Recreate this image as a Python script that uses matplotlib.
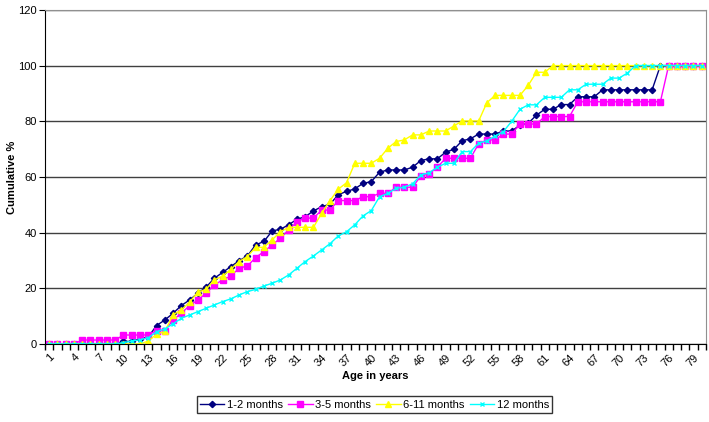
import numpy as np
import matplotlib
matplotlib.use('Agg')
import matplotlib.pyplot as plt
from matplotlib.ticker import FixedLocator

plt.rcParams['font.family'] = ['Liberation Sans', 'DejaVu Sans']

# Age categories 1..80
ages = list(range(1, 81))

m1_2 = [0, 0, 0, 0, 0, 0, 0, 0, 0, 0.9,
        0.9, 1.9, 2.5, 6.6, 8.6, 11.0, 13.8, 15.8, 18.2, 20.4,
        23.6, 25.7, 27.8, 29.9, 31.6, 35.6, 36.8, 40.6, 41.2, 42.8,
        44.8, 45.7, 47.8, 49.3, 50.2, 53.6, 54.8, 55.7, 57.7, 58.3,
        61.7, 62.5, 62.5, 62.5, 63.5, 65.9, 66.5, 66.5, 68.9, 69.9,
        73.0, 73.7, 75.4, 75.4, 75.4, 76.5, 76.5, 78.6, 79.3, 82.2,
        84.3, 84.3, 86.0, 86.0, 88.8, 88.8, 88.8, 91.3, 91.3, 91.3,
        91.3, 91.3, 91.3, 91.3, 100, 100, 100, 100, 100, 100]

m3_5 = [0, 0, 0, 0, 1.4, 1.4, 1.4, 1.4, 1.4, 3.2,
        3.2, 3.2, 3.2, 4.8, 4.8, 8.6, 11.0, 13.8, 15.8, 18.2,
        21.2, 23.0, 24.4, 27.2, 28.0, 31.0, 33.2, 35.6, 38.0, 41.0,
        43.9, 45.2, 45.2, 48.1, 48.1, 51.5, 51.5, 51.5, 52.9, 52.9,
        54.1, 54.1, 56.3, 56.3, 56.3, 60.4, 61.1, 63.5, 66.7, 66.7,
        66.7, 66.7, 71.9, 73.3, 73.3, 75.4, 75.4, 79.0, 79.0, 79.0,
        81.7, 81.7, 81.7, 81.7, 87.0, 87.0, 87.0, 87.0, 87.0, 87.0,
        87.0, 87.0, 87.0, 87.0, 87.0, 100, 100, 100, 100, 100]

m6_11 = [0, 0, 0, 0, 0, 0, 0, 0, 0, 0,
         0, 0, 1.0, 3.5, 4.5, 10.5, 12.2, 15.0, 18.6, 19.6,
         23.0, 24.4, 26.8, 29.6, 31.4, 34.7, 34.7, 37.4, 40.3, 41.9,
         41.9, 41.9, 41.9, 47.0, 51.5, 55.6, 57.9, 64.9, 64.9, 64.9,
         66.7, 70.3, 72.7, 73.3, 75.1, 75.1, 76.5, 76.5, 76.5, 78.3,
         80.1, 80.1, 80.1, 86.7, 89.3, 89.3, 89.3, 89.3, 92.9, 97.6,
         97.6, 100, 100, 100, 100, 100, 100, 100, 100, 100,
         100, 100, 100, 100, 100, 100, 100, 100, 100, 100]

m12 = [0, 0, 0, 0, 0, 0, 0, 0, 0, 0.5,
       1.0, 1.5, 2.2, 4.4, 5.4, 7.2, 9.2, 10.4, 11.6, 12.8,
       14.0, 15.2, 16.2, 17.6, 18.8, 19.6, 20.8, 21.8, 23.0, 24.8,
       27.2, 29.6, 31.6, 33.8, 36.0, 38.8, 40.3, 42.8, 46.0, 47.9,
       52.9, 54.1, 55.9, 56.3, 57.5, 60.7, 61.5, 63.5, 64.9, 64.9,
       69.1, 69.1, 72.1, 73.0, 74.7, 76.3, 80.0, 84.3, 85.9, 85.9,
       88.6, 88.6, 88.6, 91.3, 91.3, 93.3, 93.3, 93.3, 95.5, 95.5,
       97.3, 100, 100, 100, 100, 100, 100, 100, 100, 100]

fig = plt.figure(figsize=(7.09, 4.22), dpi=100)
ax = fig.add_axes([0.0635, 0.185, 0.932, 0.7915])

ax.plot(ages, m1_2, color='#000080', marker='D', markersize=3.2, linewidth=1, label='1-2 months')
ax.plot(ages, m3_5, color='#FF00FF', marker='s', markersize=3.8, linewidth=1, label='3-5 months')
ax.plot(ages, m6_11, color='#FFFF00', marker='^', markersize=4.5, linewidth=1, label='6-11 months')
ax.plot(ages, m12, color='#00FFFF', marker='x', markersize=3.2, markeredgewidth=1, linewidth=1, label='12 months')

ax.set_xlim(0.5, 80.5)
ax.set_ylim(0, 120)
ax.set_yticks(range(0, 121, 20))
ax.yaxis.grid(True, color='#404040', linewidth=1)
ax.set_axisbelow(True)

ax.set_xticks(ages[::3])
ax.set_xticklabels([str(a) for a in ages[::3]], rotation=45, ha='right', rotation_mode='anchor')
ax.xaxis.set_minor_locator(FixedLocator(np.arange(0.5, 81, 1)))
ax.tick_params(axis='x', which='major', length=0, pad=6, labelsize=8)
ax.tick_params(axis='x', which='minor', length=4, width=1, direction='out')
ax.tick_params(axis='y', length=4, labelsize=8, pad=2)

for s in ['top', 'right']:
    ax.spines[s].set_color('#909090')
for s in ['left', 'bottom']:
    ax.spines[s].set_color('black')

ax.set_xlabel('Age in years', fontsize=8, fontweight='bold', labelpad=2)
ax.set_ylabel('Cumulative %', fontsize=8, fontweight='bold', labelpad=1)

leg = fig.legend(loc='lower center', bbox_to_anchor=(0.528, 0.008), ncol=4, fontsize=8,
                 frameon=True, fancybox=False, edgecolor='black', handlelength=2.2,
                 handletextpad=0.2, columnspacing=0.5, borderpad=0.3)
leg.get_frame().set_linewidth(1)

fig.savefig('out.png', dpi=100)
